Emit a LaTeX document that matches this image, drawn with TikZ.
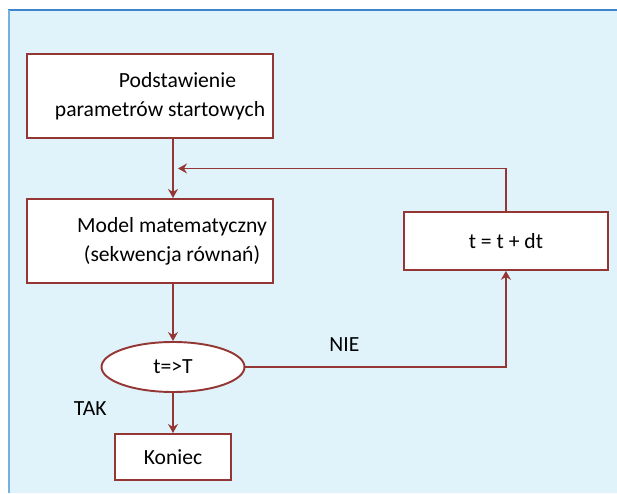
\documentclass[tikz,border=0pt]{standalone}
\usepackage{fontspec}
\setmainfont{Carlito}
\usepackage{xcolor}
\usepackage{tikz}
\usetikzlibrary{calc, arrows.meta, shapes.geometric, positioning}
\definecolor{framered}{HTML}{943634}
\definecolor{panelblue}{HTML}{E0F2FA}
\definecolor{edgeblue}{HTML}{3C84CC}
\definecolor{sideblue}{HTML}{7AB0E0}
\tikzset{
  procbox/.style={
    rectangle, draw=framered, line width=1.1pt, fill=white,
    minimum width=4.92cm, minimum height=1.68cm, align=center,
    inner sep=0pt, font=\fontsize{12.3}{16.5}\selectfont
  },
  stepbox/.style={
    rectangle, draw=framered, line width=1.1pt, fill=white,
    minimum width=4.08cm, minimum height=1.16cm, align=center,
    font=\fontsize{12.3}{16.5}\selectfont
  },
  decision/.style={
    ellipse, draw=framered, line width=1.1pt, fill=white,
    minimum width=2.86cm, minimum height=1.0cm, inner sep=0pt,
    font=\fontsize{12.3}{16.5}\selectfont
  },
  endbox/.style={
    rectangle, draw=framered, line width=1.1pt, fill=white,
    minimum width=2.32cm, minimum height=0.92cm,
    font=\fontsize{12.3}{16.5}\selectfont
  },
  flow/.style={-{Stealth[length=0.18cm, width=0.2cm, inset=0.06cm]},
    line width=0.7pt, color=framered},
  tag/.style={font=\fontsize{12.3}{16.5}\selectfont, text=black},
}

\begin{document}
\begin{tikzpicture}[node distance=1.18cm and 2.58cm]

  \useasboundingbox (0,0) rectangle (12.34,9.86);
  \fill[panelblue] (0.16,0) rectangle (12.34,9.66);
  \draw[edgeblue, line width=0.8pt] (0.16,9.66) -- (12.34,9.66);
  \draw[sideblue, line width=1.2pt] (0.18,0) -- (0.18,9.66);

  \node[procbox] (start) at (3.0,7.94)
    {\hspace*{1.1cm}Podstawienie\\\hspace*{0.4cm}parametrów startowych};
  \node[procbox, below=of start] (model)
    {\hspace*{0.88cm}Model matematyczny\\\hspace*{0.88cm}(sekwencja równań)};
  \node[stepbox, right=of model] (incr) {t = t + dt};
  \node[decision] (check) at (3.46,2.52) {t=>T};
  \node[endbox, below=0.8cm of check] (stop) {Koniec};

  \coordinate (join) at ($(start.south -| check)!0.5!(model.north -| check) + (0.1,0)$);

  \draw[flow] (start.south -| check) -- (model.north -| check);
  \draw[flow] (incr.north) |- (join);
  \draw[flow] (model.south -| check) -- (check.north);
  \draw[flow] (check.east) -| node[tag, pos=0.19, above=0.18cm] {NIE} (incr.south);
  \draw[flow] (check.south) -- node[tag, pos=0.4, left=1.2cm] {TAK} (stop.north);

\end{tikzpicture}
\end{document}
